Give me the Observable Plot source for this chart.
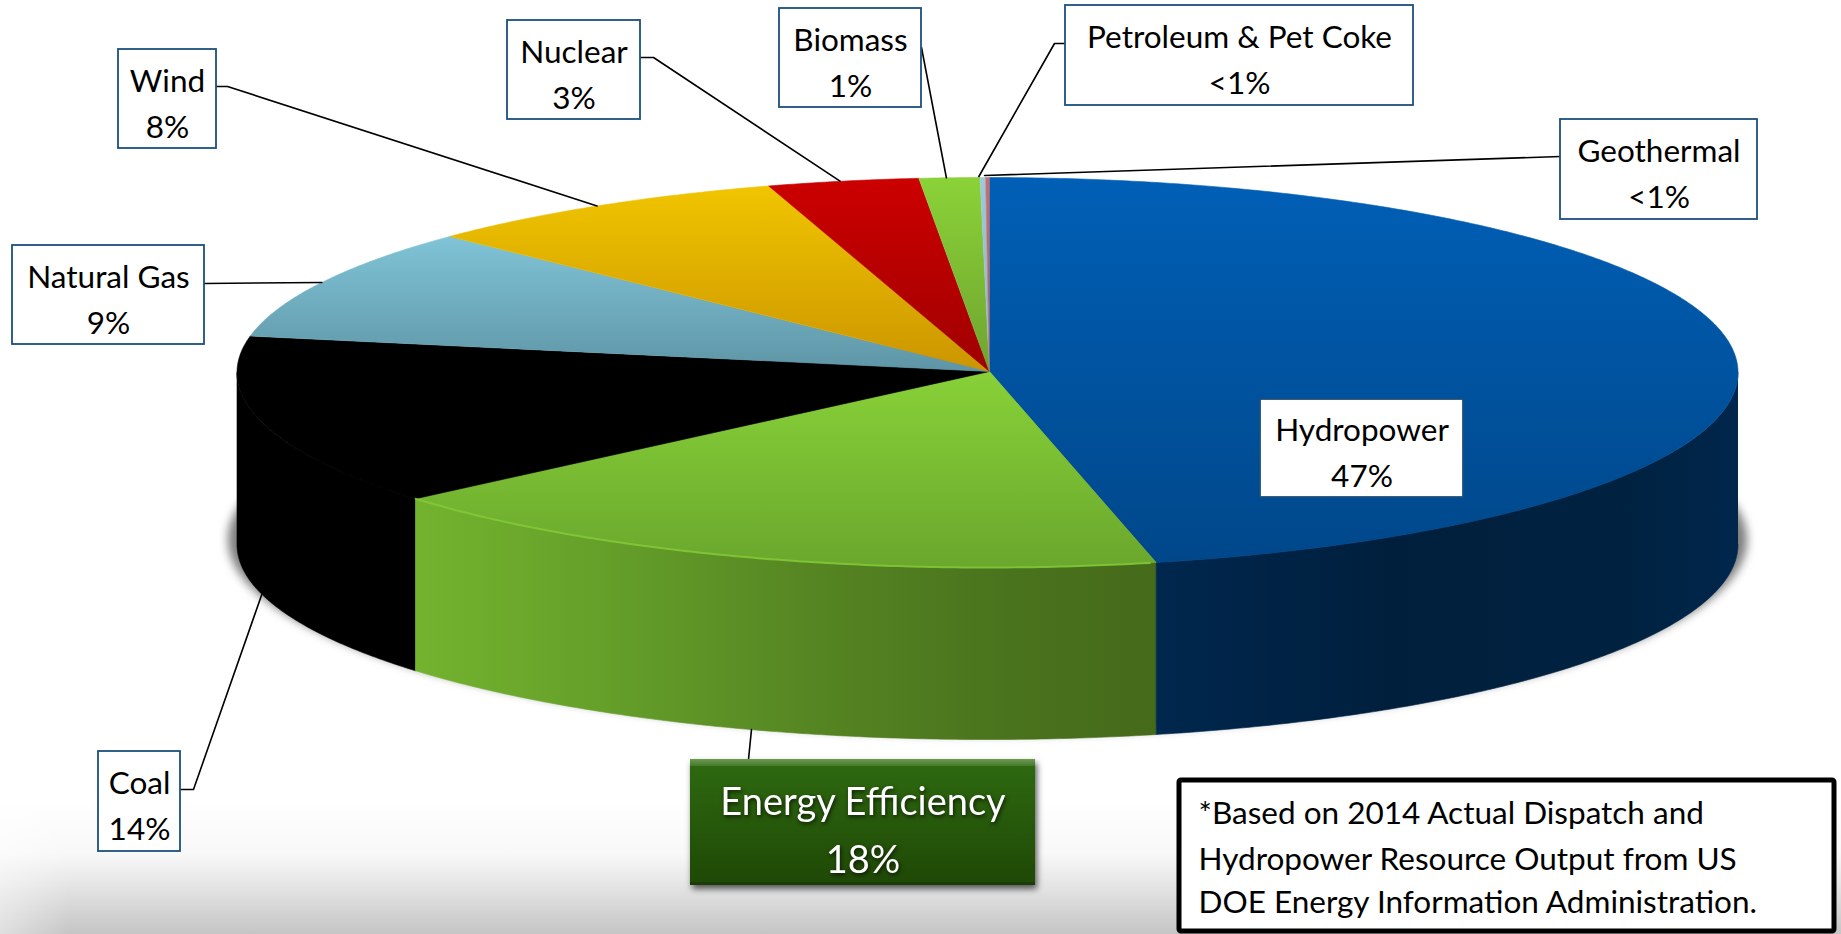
<!DOCTYPE html>
<html>
<head>
<meta charset="utf-8">
<script src="https://cdn.jsdelivr.net/npm/d3@7"></script>
<script src="https://cdn.jsdelivr.net/npm/@observablehq/plot@0.6"></script>
<style>
html,body{margin:0;padding:0;background:#fff;overflow:hidden}
svg{display:block}
</style>
</head>
<body>
<div id="chart"></div>
<script>
// ---- chart values (clockwise from 12 o'clock)
const categories = ["Hydropower","Energy Efficiency","Coal","Natural Gas","Wind","Nuclear","Biomass","Petroleum & Pet Coke","Geothermal"];
const shares     = [46.35,17.4,14.2,9.3,8,3.25,1.3,0.12,0.08];
const shareLabels= ["47%","18%","14%","9%","8%","3%","1%","<1%","<1%"];
const topLight   = ["#005FB6","#88D138","#000000","#80C4D7","#F0C500","#CC0000","#8BD238","#9FC8DB","#C96D6E"];
const topDark    = ["#00478A","#6AA72D","#000000","#5E95A6","#CC9500","#A00000","#6FA42F","#8FB5C6","#B55E5E"];
const footnote   = ["*Based on 2014 Actual Dispatch and","Hydropower Resource Output from US","DOE Energy Information Administration."];

// ---- layout of the drawing
const W = 1841, H = 934;
const pie = {cx:987, cy:372, rx:750.5, ry:195, depth:172, apexX:989, apexY:371, start:0.15};
const FONT = "Lato, Carlito, sans-serif";
const labelFont = 31.5, noteFont = 31.5;
// label boxes: x1,x2,y1,y2
const boxX1 = [1260,690,98,12,118,507,779,1065,1560];
const boxX2 = [1463,1035,180,204,216,640,921,1413,1757];
const boxY1 = [399,759,751,245,49,20,8,5,119];
const boxY2 = [497,885,851,344,148,119,107,105,219];
// leader: start on box, optional elbow, nudge of its end on the rim
const leadStart = [null,[748,759],[180,789],[204,283],[216,86],[640,57],[921,47],[1065,43],[1560,156]];
const leadElbow = [null,null,[193,789],null,[227,86],[653,57],null,[1054,43],null];
const leadNudge = [null,[0,0],[0,0],[0,0],[0,0],[-3,0],[-3,0],[-4,-1],[-3,-2]];

// ---- geometry from the values
const rad = d => d*Math.PI/180;
const rim = (t,dy=0) => ({x:pie.cx+pie.rx*Math.sin(rad(t)), y:pie.cy-pie.ry*Math.cos(rad(t))+dy});
const arc = (a,b,dy=0) => { const n=Math.max(2,Math.ceil(Math.abs(b-a)*2)); return d3.range(n+1).map(i=>rim(a+(b-a)*i/n,dy)); };
let acc = pie.start;
const slices = categories.map((name,i)=>{ const a=acc; acc+=shares[i]*3.6; return {name,i,a,b:acc,mid:(a+acc)/2}; });
const tops = slices.map(s=>[{x:pie.apexX,y:pie.apexY},...arc(s.a,s.b)]);
const side = (a,b)=>[...arc(a,b),...arc(b,a,pie.depth)];
const sideSpans = slices.map(s=>[Math.max(s.a,90),Math.min(s.b,270)]);

// gradients
const defs = () => {
  const d = d3.create("svg:defs");
  const grad=(id,stops,attrs)=>{
    const g=d.append("linearGradient").attr("id",id);
    Object.entries(attrs).forEach(([k,v])=>g.attr(k,v));
    stops.forEach(([o,c,op])=>{const s=g.append("stop").attr("offset",o).attr("stop-color",c); if(op!=null)s.attr("stop-opacity",op);});
  };
  topLight.forEach((c,i)=>grad("top"+i,[[0,c],[1,topDark[i]]],{x1:0,y1:0,x2:0,y2:1}));
  grad("sideGreen",[[0,"#73B32E"],[0.25,"#65A02A"],[0.55,"#558422"],[0.8,"#4A731D"],[1,"#456A1A"]],{gradientUnits:"userSpaceOnUse",x1:415,y1:0,x2:1155,y2:0});
  grad("sideBlue",[[0,"#00274E"],[0.4,"#001F3D"],[0.8,"#002240"],[1,"#00264C"]],{gradientUnits:"userSpaceOnUse",x1:1155,y1:0,x2:1737,y2:0});
  grad("bg",[[0,"#ffffff"],[0.4,"#f8f8f8"],[0.6,"#e8e8e8"],[0.85,"#d2d2d2"],[1,"#c5c5c5"]],{x1:0,y1:0,x2:0,y2:1});
  grad("bgLeft",[[0,"#ffffff",0.45],[1,"#ffffff",0]],{x1:0,y1:0,x2:1,y2:0});
  grad("eeBody",[[0,"#2E6A10"],[1,"#1F4806"]],{x1:0,y1:0,x2:0,y2:1});
  grad("eeBevel",[[0,"#6E9A52"],[1,"#44792A"]],{x1:0,y1:0,x2:0,y2:1});
  return d.node();
};

const boxes = slices.map((s,i)=>({name:s.name,label:shareLabels[i],x1:boxX1[i],x2:boxX2[i],y1:boxY1[i],y2:boxY2[i],
  cx:(boxX1[i]+boxX2[i])/2, cy:(boxY1[i]+boxY2[i])/2+1, text:`${s.name}\n${shareLabels[i]}`}));
const plainBoxes = boxes.filter(b=>b.name!=="Energy Efficiency");
const ee = boxes.filter(b=>b.name==="Energy Efficiency");

const leaders = slices.flatMap((s,i)=>{
  if(!leadStart[i]) return [];
  const mid = rim(s.mid, s.mid>90&&s.mid<270 ? pie.depth : 0);
  const pts=[leadStart[i],leadElbow[i],[mid.x+leadNudge[i][0],mid.y+leadNudge[i][1]]].filter(Boolean);
  return pts.map(p=>({name:s.name,x:p[0],y:p[1]}));
});

const footLines = footnote.map((t,i)=>({t,y:[813,859,902][i]}));

const line = (pts,o)=>Plot.line(pts,{x:"x",y:"y",curve:"linear",...o});

const chart = Plot.plot({
  width:W,height:H,margin:0,
  x:{domain:[0,W],range:[0,W],axis:null},
  y:{domain:[0,H],range:[0,H],axis:null},
  style:{background:"#fff",fontFamily:FONT,color:"#000"},
  marks:[
    defs,
    // page background
    Plot.rect([{}],{x1:()=>0,x2:()=>W,y1:()=>800,y2:()=>H,fill:"url(#bg)"}),
    Plot.rect([{}],{x1:()=>0,x2:()=>70,y1:()=>800,y2:()=>H,fill:"url(#bgLeft)"}),
    // soft shadow under the pie
    line(arc(0,360).map(p=>({x:pie.cx+(p.x-pie.cx)*1.012,y:p.y+167})),{fill:"#7d7d7d",stroke:"none",imageFilter:"blur(5px)"}),
    // side walls
    ...[[2,"#000000"],[1,"url(#sideGreen)"],[0,"url(#sideBlue)"]].map(([i,f])=>
      line(side(...sideSpans[i]),{fill:f,stroke:f,strokeWidth:0.6})),
    // top faces
    ...tops.map((pts,i)=>line(pts,{fill:`url(#top${i})`,stroke:`url(#top${i})`,strokeWidth:0.6})),
    // highlight along the green rim
    line(arc(slices[1].a+0.5,slices[1].b),{stroke:"#85CC38",strokeWidth:2,strokeOpacity:0.8}),
    // leaders
    Plot.line(leaders,{x:"x",y:"y",z:"name",curve:"linear",stroke:"#000",strokeWidth:1.6}),
    // plain label boxes
    Plot.rect(plainBoxes,{x1:"x1",x2:"x2",y1:"y1",y2:"y2",fill:"#fff",stroke:"#1B4F7C",strokeWidth:1.8}),
    Plot.text(plainBoxes,{x:"cx",y:"cy",text:"text",fontSize:labelFont,lineHeight:46/labelFont,fill:"#000",fontFamily:FONT}),
    // highlighted box
    Plot.rect(ee,{x1:"x1",x2:"x2",y1:"y1",y2:"y2",fill:"#555",dx:2,dy:4,imageFilter:"blur(3px)"}),
    Plot.rect(ee,{x1:"x1",x2:"x2",y1:"y1",y2:"y2",fill:"url(#eeBody)"}),
    Plot.rect(ee,{x1:"x1",x2:"x2",y1:"y1",y2:d=>d.y1+7,fill:"url(#eeBevel)"}),
    Plot.rect(ee,{x1:"x1",x2:"x2",y1:d=>d.y2-3,y2:"y2",fill:"#1B3C05"}),
    Plot.text(ee,{x:"cx",y:d=>d.cy+2,text:"text",fontSize:38,lineHeight:58/38,fill:"#fff",fontFamily:FONT,imageFilter:"drop-shadow(1px 2px 2px rgba(0,0,0,.7))"}),
    // footnote
    Plot.rect([{}],{x1:()=>1179,x2:()=>1834,y1:()=>780,y2:()=>931,fill:"#fff",stroke:"#000",strokeWidth:5,rx:2}),
    Plot.text(footLines,{x:()=>1198,y:"y",text:"t",textAnchor:"start",fontSize:noteFont,fill:"#000",fontFamily:FONT})
  ]
});
document.getElementById("chart").append(chart);
</script>
</body>
</html>
